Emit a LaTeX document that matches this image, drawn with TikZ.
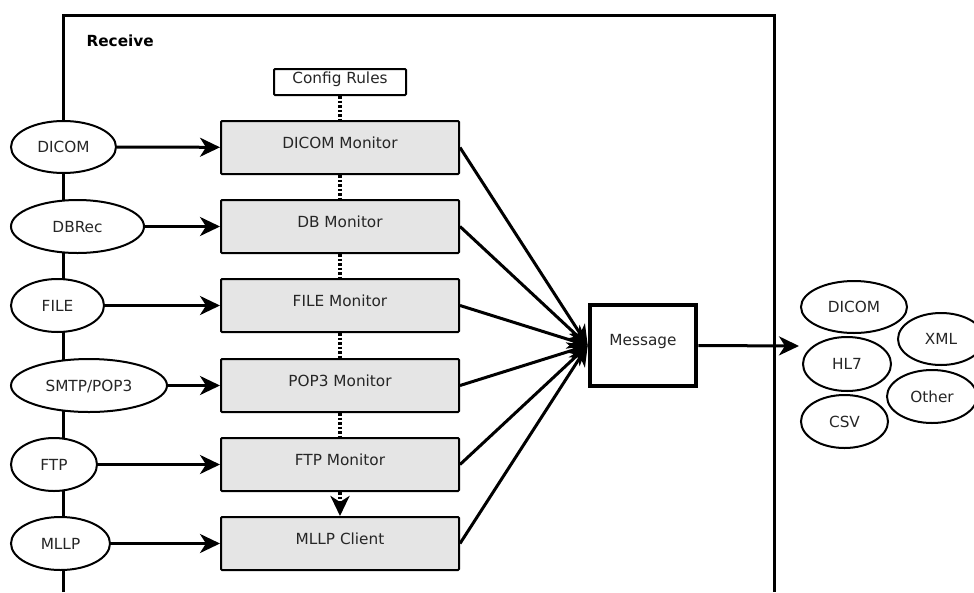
\documentclass[tikz,border=0pt]{standalone}
\usepackage{fontspec}
\setmainfont{DejaVu Sans}
\usetikzlibrary{shapes.geometric,arrows.meta}
\begin{document}
\begin{tikzpicture}[x=1pt,y=-1pt,
  font=\fontsize{15.3}{18}\selectfont,
  every node/.style={text=black!85},
  mon/.style={draw=black, line width=2pt, fill=gray!20, rounded corners=1pt, minimum width=238pt, minimum height=53pt, inner sep=0pt, text height=11.5pt, text depth=10pt},
  src/.style={draw=black, ellipse, line width=2pt, fill=white, inner sep=0pt, text height=11pt, text depth=0pt},
  arr/.style={line width=3pt, -{Stealth[length=20pt,width=19pt,inset=6pt]}},
  dotline/.style={line width=3.5pt, dash pattern=on 2.5pt off 2pt}
]
\useasboundingbox (0,0) rectangle (974,592);
% frame
\draw[line width=3pt] (63,592) -- (63,15) -- (774,15) -- (774,592);
\node[font=\fontsize{15.3}{18}\selectfont\bfseries, anchor=west, text=black] (recv) at (83,41) {Receive};

% config and monitors
\node[draw=black, line width=2pt, fill=white, rounded corners=1pt, minimum width=132pt, minimum height=26pt, inner sep=0pt, text height=11.5pt, text depth=8pt] (cfg) at (340,82) {Config Rules};
\node[mon] (m1) at (340,147.5) {DICOM Monitor};
\node[mon] (m2) at (340,226.5) {DB Monitor};
\node[mon] (m3) at (340,305.5) {FILE Monitor};
\node[mon] (m4) at (340,385.5) {POP3 Monitor};
\node[mon] (m5) at (340,464.5) {FTP Monitor};
\node[mon] (m6) at (340,543.5) {MLLP Client};

\draw[dotline] (cfg.south) -- (m1.north);
\draw[dotline] (m1.south) -- (m2.north);
\draw[dotline] (m2.south) -- (m3.north);
\draw[dotline] (m3.south) -- (m4.north);
\draw[dotline] (m4.south) -- (m5.north);
\draw[dotline, -{Stealth[length=20pt,width=19pt,inset=6pt]}] (m5.south) -- (m6.north);

% sources
\node[src, minimum width=105pt, minimum height=52pt] (s1) at (63.5,147) {DICOM};
\node[src, minimum width=133pt, minimum height=53pt] (s2) at (77.5,226.5) {DBRec};
\node[src, minimum width=93pt, minimum height=53pt] (s3) at (57.5,305.5) {FILE};
\node[src, minimum width=156pt, minimum height=53pt] (s4) at (89,385.5) {SMTP/POP3};
\node[src, minimum width=86pt, minimum height=53pt] (s5) at (54,464.5) {FTP};
\node[src, minimum width=99pt, minimum height=53pt] (s6) at (60.5,543.5) {MLLP};

\draw[arr] (s1) -- (m1);
\draw[arr] (s2) -- (m2);
\draw[arr] (s3) -- (m3);
\draw[arr] (s4) -- (m4);
\draw[arr] (s5) -- (m5);
\draw[arr] (s6) -- (m6);

% message
\node[draw=black, line width=4.5pt, fill=white, minimum width=106pt, minimum height=81pt, inner sep=0pt, text height=11.5pt, text depth=12pt] (msg) at (643,345.5) {Message};
\foreach \m in {m1,m2,m3,m4,m5,m6}{
  \draw[arr] (\m.east) -- (msg.west);
}

% outputs
\node[src, minimum width=106pt, minimum height=52pt] (o1) at (854,307) {DICOM};
\node[src, minimum width=86pt, minimum height=52pt] (o2) at (941,339) {XML};
\node[src, minimum width=88pt, minimum height=54pt] (o3) at (847,364) {HL7};
\node[src, minimum width=90pt, minimum height=53pt] (o4) at (932,396.5) {Other};
\node[src, minimum width=87pt, minimum height=53pt] (o5) at (844.5,421.5) {CSV};
\coordinate (outend) at (799,346);
\draw[arr] (msg.east) -- (outend);
\end{tikzpicture}
\end{document}
